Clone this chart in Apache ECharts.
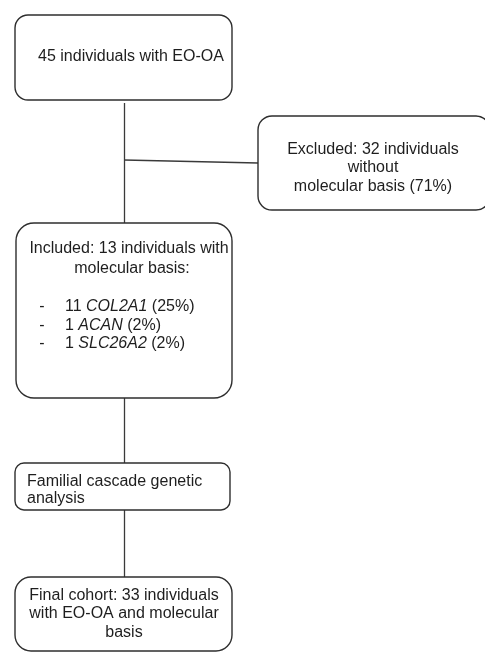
<!DOCTYPE html>
<html>
<head>
<meta charset="utf-8">
<script src="https://cdn.jsdelivr.net/npm/echarts@6/dist/echarts.min.js"></script>
<style>
html,body{margin:0;padding:0;background:#fff;}
#c{width:485px;height:653px;}
</style>
</head>
<body>
<div id="c"></div>
<script>
// Flowchart content (layout units = page pixels on a hidden 485 x 653 value grid)
const boxNames = ['start', 'excluded', 'included', 'cascade', 'final'];
const boxLeft   = [15, 258, 16, 15, 15];
const boxTop    = [15, 116, 223, 463, 577];
const boxRight  = [232, 490, 232, 230, 232];
const boxBottom = [100, 210, 398, 510, 651];
const boxRadius = [13, 14, 18, 9, 16];

const textLines = [
  '45 individuals with EO-OA',
  'Excluded: 32 individuals',
  'without',
  'molecular basis (71%)',
  'Included: 13 individuals with',
  'molecular basis:',
  '-',
  '11 {i|COL2A1} (25%)',
  '-',
  '1 {i|ACAN} (2%)',
  '-',
  '1 {i|SLC26A2} (2%)',
  'Familial cascade genetic',
  'analysis',
  'Final cohort: 33 individuals',
  'with EO-OA and molecular',
  'basis'
];
const textX = [131, 373, 373, 373, 129, 132, 42, 65, 42, 65, 42, 65, 27, 27, 124, 124, 124];
const textY = [56.5, 149.5, 168, 187, 249, 269, 307, 307, 326, 326, 344, 344, 482, 499, 595.5, 614, 633];
const textAlign = ['center','center','center','center','center','center','center','left','center','left','center','left','left','left','center','center','center'];

const connectorFrom = [[124, 103], [124, 160], [124, 398], [124, 510]];
const connectorTo   = [[124, 223], [258, 163], [124, 463], [124, 577]];

const chart = echarts.init(document.getElementById('c'), null, {renderer: 'canvas'});

const boxData = boxNames.map((n, i) => [boxLeft[i], boxTop[i], boxRight[i], boxBottom[i], boxRadius[i]]);
const txtData = textLines.map((t, i) => [textX[i], textY[i], t, textAlign[i]]);
const lineData = connectorFrom.map((f, i) => ({coords: [f, connectorTo[i]]}));

const FONT = '"Liberation Sans", Arial, sans-serif';

chart.setOption({
  animation: false,
  backgroundColor: '#fff',
  grid: {left: 0, right: 0, top: 0, bottom: 0},
  xAxis: {type: 'value', min: 0, max: 485, show: false},
  yAxis: {type: 'value', min: 0, max: 653, inverse: true, show: false},
  series: [
    {
      type: 'lines',
      coordinateSystem: 'cartesian2d',
      data: lineData,
      lineStyle: {color: '#3a3a3a', width: 1.3, opacity: 1},
      silent: true,
      z: 1
    },
    {
      type: 'custom',
      coordinateSystem: 'cartesian2d',
      data: boxData,
      encode: {x: [0, 2], y: [1, 3]},
      silent: true,
      z: 2,
      renderItem: function (params, api) {
        const p0 = api.coord([api.value(0), api.value(1)]);
        const p1 = api.coord([api.value(2), api.value(3)]);
        return {
          type: 'rect',
          shape: {x: p0[0], y: p0[1], width: p1[0] - p0[0], height: p1[1] - p0[1], r: api.value(4)},
          style: {fill: '#fff', stroke: '#2e2e2e', lineWidth: 1.4}
        };
      }
    },
    {
      type: 'custom',
      coordinateSystem: 'cartesian2d',
      data: txtData,
      encode: {x: 0, y: 1},
      silent: true,
      z: 3,
      renderItem: function (params, api) {
        const d = txtData[params.dataIndex];
        const p = api.coord([d[0], d[1]]);
        return {
          type: 'text',
          x: p[0], y: p[1],
          style: {
            text: d[2],
            fill: '#1e1e1e',
            font: '16px ' + FONT,
            fontSize: 16,
            fontFamily: FONT,
            align: d[3],
            verticalAlign: 'middle',
            rich: {i: {fontStyle: 'italic', fontSize: 16, fontFamily: FONT, fill: '#1e1e1e'}}
          }
        };
      }
    }
  ]
});
</script>
</body>
</html>
